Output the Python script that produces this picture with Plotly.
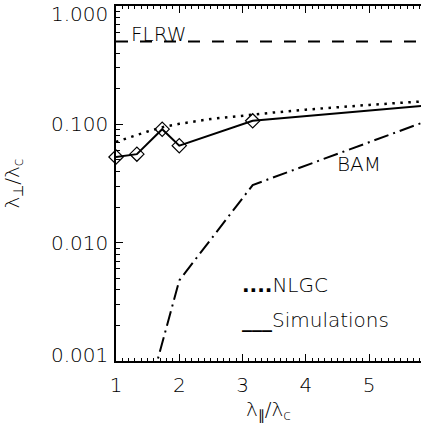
import numpy as np
import plotly.graph_objects as go

# ---- data ----
sim_x = [1.0, 1.33, 1.73, 2.0, 3.16, 6.0]
sim_y = [0.053, 0.056, 0.091, 0.066, 0.107, 0.146]

nlgc_x = [1.0, 1.25, 1.5, 1.75, 2.0, 2.5, 3.0, 3.5, 4.0, 4.5, 5.0, 5.5, 6.0]
nlgc_y = [0.071, 0.079, 0.087, 0.095, 0.101, 0.111, 0.119, 0.126, 0.133, 0.140, 0.146, 0.152, 0.158]

bam_x = [1.0, 1.5, 2.0, 3.16, 6.0]
bam_y = [0.0001, 0.0005, 0.0048, 0.0307, 0.111]

flrw_x = [1.0, 6.0]
flrw_y = [0.5, 0.5]

x_ticks = [1, 2, 3, 4, 5]
x_ticklabels = ["1", "2", "3", "4", "5"]
y_ticks = [0.001, 0.01, 0.1, 1.0]
y_ticklabels = ["0.001", "0.010", "0.100", "1.000"]
y_label_shift = [6, 0, 0, -8]

label_flrw = ("FLRW", 1.68, 0.5)
label_bam = ("BAM", 4.84, 0.046)
legend_rows = [("<b>....</b>NLGC", 2.96, 0.0044), ("<b>___</b>Simulations", 2.96, 0.0022)]

FONT = "DejaVu Sans"
FS = 20

def fnt():
    return dict(family=FONT, size=FS, color="black", weight=200)

fig = go.Figure()

fig.add_trace(go.Scatter(x=flrw_x, y=flrw_y, mode="lines",
                         line=dict(color="black", width=2, dash="12px,12px"),
                         showlegend=False))
fig.add_trace(go.Scatter(x=nlgc_x, y=nlgc_y, mode="lines",
                         line=dict(color="black", width=2.5, dash="2.5px,5.5px"),
                         showlegend=False))
fig.add_trace(go.Scatter(x=bam_x, y=bam_y, mode="lines",
                         line=dict(color="black", width=2, dash="15px,5px,2px,5px"),
                         showlegend=False))
fig.add_trace(go.Scatter(x=sim_x, y=sim_y, mode="lines+markers",
                         line=dict(color="black", width=2),
                         marker=dict(symbol="diamond-open", size=11, color="black",
                                     line=dict(width=1.2, color="black")),
                         cliponaxis=False, showlegend=False))

annotations = []
for v, t, s in zip(y_ticks, y_ticklabels, y_label_shift):
    annotations.append(dict(x=0, xref="paper", y=np.log10(v), yref="y", text=t,
                            showarrow=False, xanchor="right", yanchor="middle",
                            xshift=-6, yshift=s, font=fnt()))

for t, xv, yv in [label_flrw, label_bam]:
    annotations.append(dict(x=xv, y=np.log10(yv), xref="x", yref="y", text=t,
                            showarrow=False, xanchor="center", yanchor="middle",
                            yshift=(8 if t == "FLRW" else 0), font=fnt()))

for t, xv, yv in legend_rows:
    annotations.append(dict(x=xv, xref="x", y=np.log10(yv), yref="y",
                            text=t, showarrow=False, xanchor="left", yanchor="middle",
                            font=fnt()))

fig.update_layout(
    width=421, height=432,
    margin=dict(l=116, r=0, t=6, b=71),
    plot_bgcolor="white", paper_bgcolor="white",
    showlegend=False,
    annotations=annotations,
    font=fnt(),
)

fig.update_xaxes(
    range=[1, 5.82], showgrid=False, zeroline=False,
    showline=True, linecolor="black", linewidth=1.5, mirror="ticks",
    ticks="inside", ticklen=7, tickwidth=1, tickcolor="black",
    tickvals=x_ticks, ticktext=x_ticklabels,
    ticklabelstandoff=5,
    tickfont=fnt(),
    minor=dict(dtick=0.1, ticks="inside", ticklen=3, tickcolor="black", showgrid=False),
    title=dict(text="λ<sub>∥</sub>/λ<sub>c</sub>", standoff=2, font=fnt()),
)

fig.update_yaxes(
    type="log", range=[-3, 0], showgrid=False, zeroline=False,
    showline=True, linecolor="black", linewidth=1.5, mirror=False,
    ticks="inside", ticklen=7, tickwidth=1, tickcolor="black",
    tickvals=y_ticks, showticklabels=False,
    minor=dict(dtick="D1", ticks="inside", ticklen=4, tickcolor="black", showgrid=False),
    title=dict(text="λ<sub>⊥</sub>/λ<sub>c</sub>", standoff=91, font=fnt()),
)

fig.write_html("out.html", config={"displayModeBar": False},
               post_script="document.body.style.margin='0';document.body.style.overflow='hidden';")
